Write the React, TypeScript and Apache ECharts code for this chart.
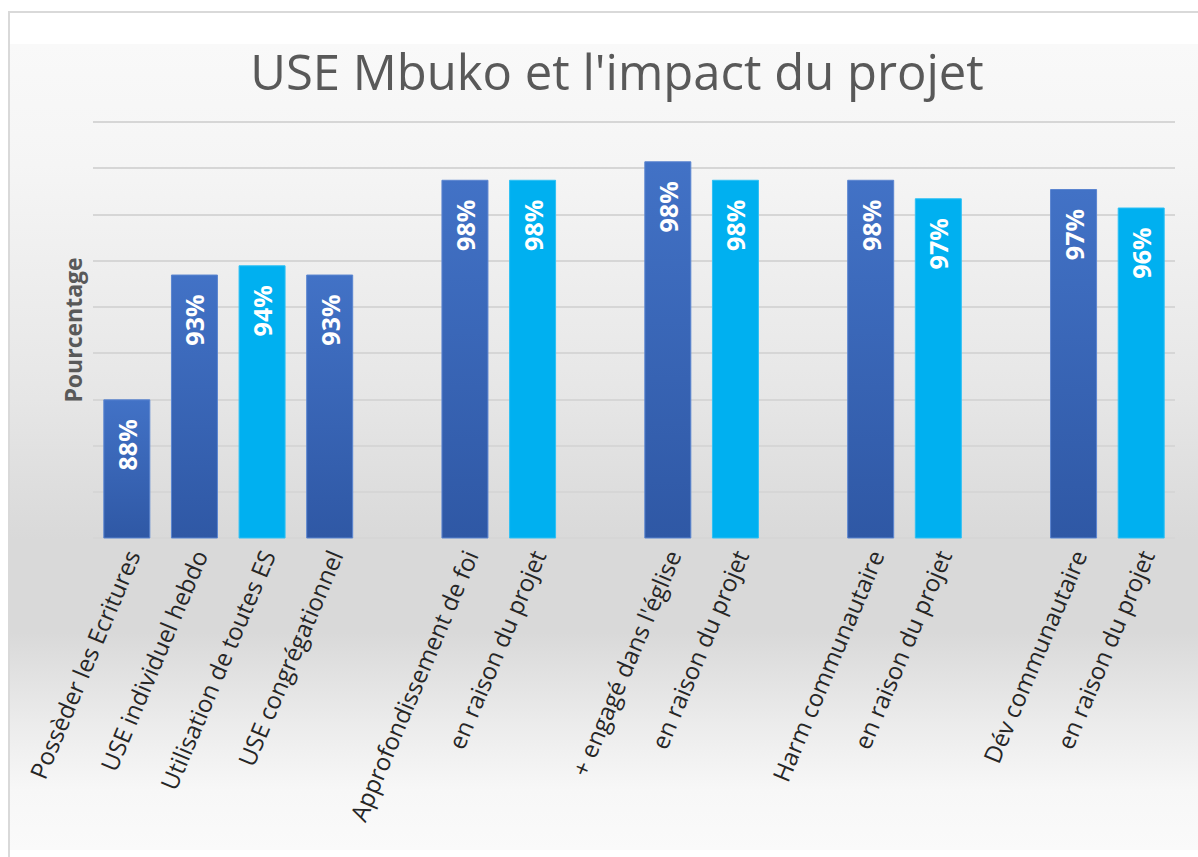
import React, { useEffect, useRef } from "react";
import * as echarts from "echarts";

const categories = [
  "Possèder les Ecritures",
  "USE individuel hebdo",
  "Utilisation de toutes ES",
  "USE congrégationnel",
  "",
  "Approfondissement de foi",
  "en raison du projet",
  "",
  "+ engagé dans l'église",
  "en raison du projet",
  "",
  "Harm communautaire",
  "en raison du projet",
  "",
  "Dév communautaire",
  "en raison du projet",
];

const values: (number | null)[] = [
  88.0, 93.4, 93.8, 93.4, null, 97.5, 97.5, null, 98.3, 97.5, null, 97.5, 96.7, null, 97.1, 96.3,
];

// "d" = dark blue, "l" = light blue, "" = empty slot
const colorKinds = ["d", "d", "l", "d", "", "d", "l", "", "d", "l", "", "d", "l", "", "d", "l"];

const yMin = 82;
const yMax = 100;
const yInterval = 2;

const titleText = "USE Mbuko et l'impact du projet";
const yAxisName = "Pourcentage";

export default function App() {
  const ref = useRef<HTMLDivElement>(null);

  useEffect(() => {
    if (!ref.current) return;
    const chart = echarts.init(ref.current, undefined, { renderer: "svg" });

    const darkGrad = new echarts.graphic.LinearGradient(0, 0, 0, 1, [
      { offset: 0, color: "#4272C6" },
      { offset: 1, color: "#2F58A5" },
    ]);

    const data = values.map((v, i) => {
      if (v === null) return "-";
      return {
        value: v,
        itemStyle: {
          color: colorKinds[i] === "d" ? darkGrad : "#00B0F0",
          borderColor: colorKinds[i] === "d" ? "#5B85D0" : "#2EC0F4",
          borderWidth: 1,
        },
      };
    });

    const option: any = {
      animation: false,
      backgroundColor: "#ffffff",
      graphic: [
        {
          type: "rect",
          z: -10,
          silent: true,
          shape: { x: 10, y: 44, width: 1200, height: 806 },
          style: {
            fill: new echarts.graphic.LinearGradient(0, 0, 0, 1, [
              { offset: 0, color: "#f9f9f9" },
              { offset: 0.15, color: "#f5f5f5" },
              { offset: 0.44, color: "#e6e6e6" },
              { offset: 0.615, color: "#d9d9d9" },
              { offset: 0.73, color: "#d9d9d9" },
              { offset: 0.84, color: "#ebebeb" },
              { offset: 0.925, color: "#f7f7f7" },
              { offset: 1, color: "#fafafa" },
            ]),
          },
        },
        {
          type: "rect",
          z: -9,
          silent: true,
          shape: { x: 9, y: 12, width: 1200, height: 860 },
          style: { fill: "none", stroke: "#d9d9d9", lineWidth: 2 },
        },
      ],
      title: {
        text: titleText,
        left: 612,
        top: 41,
        textAlign: "center",
        textStyle: {
          fontFamily: "Open Sans",
          fontSize: 49,
          fontWeight: "normal",
          color: "#595959",
        },
      },
      grid: { left: 93, right: 23, top: 122, bottom: 319, containLabel: false },
      xAxis: {
        type: "category",
        data: categories,
        axisLine: { show: false },
        axisTick: { show: false },
        axisLabel: {
          interval: 0,
          rotate: 67,
          margin: 11,
          verticalAlign: "top",
          lineHeight: 12,
          fontFamily: "Open Sans",
          fontSize: 24,
          fontWeight: "normal",
          color: "#262626",
        },
      },
      yAxis: {
        type: "value",
        min: yMin,
        max: yMax,
        interval: yInterval,
        name: yAxisName,
        nameLocation: "middle",
        nameGap: 9,
        nameRotate: 90,
        nameTextStyle: {
          fontFamily: "Open Sans",
          fontSize: 23,
          fontWeight: "bold",
          color: "#595959",
        },
        axisLine: { show: false },
        axisTick: { show: false },
        axisLabel: { show: false },
        splitLine: { lineStyle: { color: "#d6d6d6", width: 2 } },
      },
      series: [
        {
          type: "bar",
          data,
          barWidth: 47,
          label: {
            show: true,
            position: "insideTop",
            rotate: 90,
            align: "right",
            verticalAlign: "middle",
            distance: 20,
            color: "#ffffff",
            fontFamily: "Open Sans",
            fontSize: 25,
            fontWeight: "bold",
            formatter: (p: any) => Math.round(p.value) + "%",
          },
        },
      ],
    };

    chart.setOption(option);
    return () => chart.dispose();
  }, []);

  return (
    <div
      ref={ref}
      style={{ position: "fixed", left: 0, top: 0, width: 1198, height: 857 }}
    />
  );
}
